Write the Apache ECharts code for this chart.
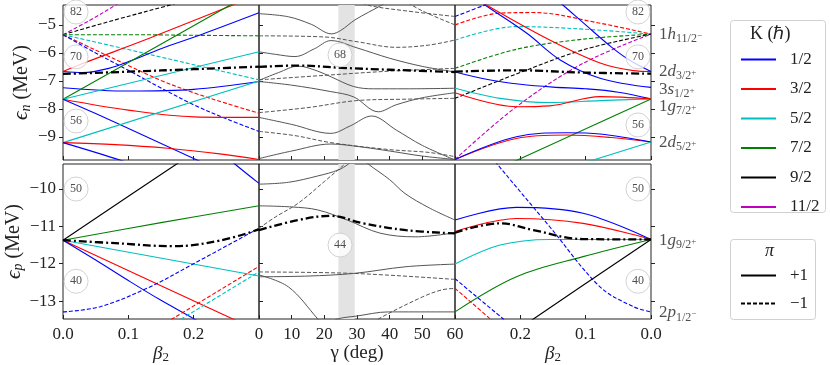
<!DOCTYPE html>
<html>
<head>
<meta charset="utf-8">
<script src="https://cdn.jsdelivr.net/npm/echarts@6/dist/echarts.min.js"></script>
<style>
  html, body { margin: 0; padding: 0; background: #fff; }
  #chart { width: 830px; height: 365px; }
</style>
</head>
<body>
<div id="chart"></div>
<script>
// K (2K value) legend entries and parity entries
const kValues = [1, 3, 5, 7, 9, 11];
const kNames = ['1/2', '3/2', '5/2', '7/2', '9/2', '11/2'];
const parityNames = ['+1', '\u22121'];

// tick values
const betaTicks = [0, 0.1, 0.2, 0.3];
const gammaTicks = [0, 10, 20, 30, 40, 50, 60];
const enTicks = [-9, -8, -7, -6, -5];
const epTicks = [-13, -12, -11, -10];

// shaded gamma window (deg)
const gammaBand = [24.3, 29.3];

// spherical levels: [n l, j, parity, energy]
const nLevels = [['1h', '11/2', '\u2212', -5.35], ['2d', '3/2', '+', -6.66], ['3s', '1/2', '+', -7.24], ['1g', '7/2', '+', -7.65], ['2d', '5/2', '+', -9.2]];
const pLevels = [['1g', '9/2', '+', -11.37], ['2p', '1/2', '\u2212', -13.29]];

// magic numbers: [x, energy, number]
const magicNL = [[0.02, -4.54, 82], [0.02, -6.14, 70], [0.02, -8.43, 56]];
const magicNM = [[24.8, -6.07, 68]];
const magicNR = [[0.02, -4.54, 82], [0.02, -6.14, 70], [0.02, -8.57, 56]];
const magicPL = [[0.02, -10.0, 50], [0.02, -12.47, 40]];
const magicPM = [[24.8, -11.5, 44]];
const magicPR = [[0.02, -10.0, 50], [0.02, -12.47, 40]];

// Fermi levels
const fermiNL = [[0, -6.75], [0.1, -6.67], [0.2, -6.58], [0.3, -6.49]];
const fermiNM = [[0, -6.5], [12, -6.45], [25, -6.53], [40, -6.6], [60, -6.68]];
const fermiNR = [[0.3, -6.67], [0.206, -6.62], [0.104, -6.7], [0, -6.74]];
const fermiPL = [[0, -11.37], [0.08, -11.45], [0.168, -11.53], [0.24, -11.38], [0.3, -11.08]];
const fermiPM = [[0, -11.1], [12, -10.83], [22, -10.72], [32, -10.92], [45, -11.1], [60, -11.19]];
const fermiPR = [[0.3, -11.17], [0.231, -10.92], [0.18, -11.1], [0.104, -11.34], [0, -11.35]];

// neutrons, prolate side (beta2, e)
const nProlate = [
  {k: 11, p: -1, pts: [[0, -5.35], [0.04, -4.85], [0.08, -4.3], [0.1, -4.0]]},
  {k: 9, p: -1, pts: [[0, -5.35], [0.08, -4.82], [0.164, -4.29], [0.2, -4.05]]},
  {k: 7, p: -1, pts: [[0, -5.35], [0.1, -5.35], [0.2, -5.37], [0.3, -5.39]]},
  {k: 5, p: -1, pts: [[0, -5.35], [0.1, -5.88], [0.2, -6.42], [0.3, -6.96]]},
  {k: 3, p: -1, pts: [[0, -5.35], [0.05, -5.9], [0.1, -6.45], [0.15, -6.98], [0.2, -7.42], [0.25, -7.8], [0.3, -8.15]]},
  {k: 1, p: -1, pts: [[0, -5.35], [0.05, -6.0], [0.1, -6.62], [0.15, -7.25], [0.2, -7.85], [0.25, -8.35], [0.3, -8.8]]},
  {k: 1, p: 1, pts: [[0, -6.66], [0.03, -6.7], [0.07, -6.55], [0.107, -6.25], [0.15, -5.85], [0.21, -5.36], [0.3, -4.57]]},
  {k: 3, p: 1, pts: [[0, -6.66], [0.031, -6.37], [0.133, -5.47], [0.26, -4.29], [0.3, -3.95]]},
  {k: 1, p: 1, pts: [[0, -7.24], [0.1, -7.36], [0.2, -7.3], [0.3, -7.02]]},
  {k: 7, p: 1, pts: [[0, -7.65], [0.256, -4.29], [0.3, -3.7]]},
  {k: 5, p: 1, pts: [[0, -7.65], [0.3, -5.96]]},
  {k: 3, p: 1, pts: [[0, -7.65], [0.1, -8.04], [0.2, -8.28], [0.3, -8.3]]},
  {k: 1, p: 1, pts: [[0, -7.65], [0.082, -8.5], [0.205, -9.82], [0.25, -10.3]]},
  {k: 5, p: 1, pts: [[0, -9.2], [0.3, -7.0]]},
  {k: 3, p: 1, pts: [[0, -9.2], [0.08, -9.27], [0.16, -9.4], [0.24, -9.6], [0.3, -9.8]]},
  {k: 1, p: 1, pts: [[0, -9.2], [0.087, -9.82], [0.12, -10.1]]}
];

// neutrons, gamma path at beta2 = 0.3 (gamma, e)
const nTriaxial = [
  {p: 1, pts: [[0, -4.6], [9, -4.71], [16, -4.98], [22.2, -5.32], [25, -5.2], [29.4, -4.82], [37.6, -4.29], [40, -4.1]]},
  {p: 1, pts: [[0, -5.96], [5, -6.05], [11, -6.13], [17, -5.85], [22, -5.56], [30, -5.82], [40, -6.19], [50, -6.48], [60, -6.68]]},
  {p: 1, pts: [[0, -6.98], [6, -6.7], [12, -6.47], [18, -6.65], [22.2, -6.86], [29, -7.2], [35, -7.28], [45, -7.28], [60, -7.26]]},
  {p: 1, pts: [[0, -7.02], [10, -7.15], [22, -7.38], [29, -7.57], [36.5, -8.1], [42, -7.85], [50, -7.6], [60, -7.42]]},
  {p: 1, pts: [[0, -8.3], [10, -8.55], [22, -8.87], [28, -8.6], [34.5, -8.25], [42, -8.75], [50, -9.3], [60, -9.82]]},
  {p: 1, pts: [[0, -9.77], [10, -9.5], [22, -9.25], [31, -9.35], [40, -9.5], [50, -9.68], [60, -9.8]]},
  {p: -1, pts: [[0, -5.39], [20, -5.43], [30, -5.6], [42, -5.8], [52, -5.72], [60, -5.54]]},
  {p: -1, pts: [[0, -6.96], [20, -6.8], [40, -6.65], [60, -6.55]]},
  {p: -1, pts: [[0, -8.13], [15, -7.95], [30, -7.7], [45, -7.65], [60, -7.62]]},
  {p: -1, pts: [[0, -8.8], [11, -8.95], [22, -9.2], [40, -9.45], [52, -9.55], [60, -9.7]]},
  {p: -1, pts: [[30, -4.1], [33, -4.29], [45, -4.5], [60, -4.7]]},
  {p: -1, pts: [[44, -4.1], [50, -4.5], [60, -5.0]]}
];

// neutrons, oblate side (beta2, e)
const nOblate = [
  {k: 1, p: -1, pts: [[0.3, -4.7], [0.254, -4.29], [0.22, -4.0]]},
  {k: 3, p: -1, pts: [[0.3, -5.0], [0.231, -4.58], [0.18, -4.56], [0.078, -4.94], [0, -5.33]]},
  {k: 5, p: -1, pts: [[0.3, -5.54], [0.206, -5.06], [0.104, -5.15], [0, -5.33]]},
  {k: 7, p: -1, pts: [[0.3, -6.55], [0.206, -5.87], [0.104, -5.51], [0, -5.33]]},
  {k: 9, p: -1, pts: [[0.3, -7.62], [0.206, -6.75], [0.104, -5.89], [0, -5.33]]},
  {k: 11, p: -1, pts: [[0.3, -9.8], [0.206, -7.92], [0.104, -6.37], [0, -5.33]]},
  {k: 1, p: 1, pts: [[0.27, -4.0], [0.254, -4.29], [0.19, -5.3], [0.139, -6.25], [0.078, -6.9], [0, -7.23]]},
  {k: 3, p: 1, pts: [[0.27, -4.0], [0.252, -4.29], [0.155, -5.54], [0.078, -6.36], [0.027, -6.63], [0, -6.66]]},
  {k: 1, p: 1, pts: [[0.15, -4.0], [0.135, -4.29], [0.1, -5.0], [0.06, -5.8], [0.03, -6.3], [0, -6.66]]},
  {k: 1, p: 1, pts: [[0.3, -6.68], [0.25, -6.95], [0.2, -7.12], [0.15, -7.22], [0.1, -7.28], [0.05, -7.4], [0, -7.64]]},
  {k: 5, p: 1, pts: [[0.3, -7.26], [0.231, -7.62], [0.155, -7.77], [0.078, -7.7], [0, -7.64]]},
  {k: 3, p: 1, pts: [[0.3, -7.42], [0.206, -7.92], [0.155, -7.89], [0.078, -7.56], [0, -7.64]]},
  {k: 7, p: 1, pts: [[0.24, -10.2], [0, -7.64]]},
  {k: 3, p: 1, pts: [[0.3, -9.8], [0.206, -9.05], [0.129, -8.93], [0.06, -9.02], [0, -9.18]]},
  {k: 1, p: 1, pts: [[0.3, -9.8], [0.206, -8.99], [0.129, -8.85], [0.078, -8.89], [0, -9.18]]},
  {k: 5, p: 1, pts: [[0.12, -10.05], [0, -9.18]]}
];

// protons, prolate side
const pProlate = [
  {k: 9, p: 1, pts: [[0, -11.37], [0.174, -9.33], [0.2, -9.03]]},
  {k: 7, p: 1, pts: [[0, -11.37], [0.15, -10.9], [0.3, -10.45]]},
  {k: 5, p: 1, pts: [[0, -11.37], [0.3, -12.33]]},
  {k: 3, p: 1, pts: [[0, -11.37], [0.26, -13.48], [0.3, -13.8]]},
  {k: 1, p: 1, pts: [[0, -11.37], [0.05, -11.9], [0.1, -12.45], [0.15, -12.98], [0.2, -13.47], [0.22, -13.7]]},
  {k: 1, p: 1, pts: [[0.255, -9.2], [0.263, -9.33], [0.3, -9.85]]},
  {k: 1, p: -1, pts: [[0, -13.29], [0.057, -13.15], [0.133, -12.62], [0.2, -12.0], [0.3, -11.05]]},
  {k: 3, p: -1, pts: [[0.15, -13.66], [0.167, -13.48], [0.3, -12.07]]},
  {k: 5, p: -1, pts: [[0.165, -13.65], [0.181, -13.48], [0.3, -12.22]]}
];

// protons, gamma path
const pTriaxial = [
  {p: 1, pts: [[0, -9.87], [9, -9.82], [18, -9.65], [24.3, -9.49], [27.4, -9.33], [30, -9.15]]},
  {p: 1, pts: [[31, -9.15], [33.4, -9.33], [40, -9.75], [44.7, -10.12], [52, -10.5], [60, -10.83]]},
  {p: 1, pts: [[0, -10.45], [10, -10.48], [18, -10.56], [27, -10.83], [37, -11.18], [48, -11.28], [60, -11.17]]},
  {p: 1, pts: [[0, -12.35], [15, -12.33], [29, -12.26], [45, -12.08], [60, -12.01]]},
  {p: 1, pts: [[0, -12.3], [9, -12.62], [18, -13.48], [20, -13.7]]},
  {p: 1, pts: [[22, -13.6], [24, -13.48], [30, -13.4], [39.6, -13.29], [60, -13.29]]},
  {p: -1, pts: [[0, -11.05], [5, -10.75], [12, -10.38], [20, -9.8], [26.3, -9.33], [28, -9.2]]},
  {p: -1, pts: [[0, -12.22], [29, -12.26], [60, -12.42]]},
  {p: -1, pts: [[35, -13.6], [36.5, -13.48], [50, -12.89], [56, -12.7], [60, -12.66]]}
];

// protons, oblate side
const pOblate = [
  {k: 1, p: 1, pts: [[0.3, -10.83], [0.206, -10.49], [0.104, -10.65], [0, -11.35]]},
  {k: 3, p: 1, pts: [[0.3, -11.14], [0.206, -10.79], [0.104, -10.92], [0, -11.35]]},
  {k: 5, p: 1, pts: [[0.3, -12.01], [0.231, -11.5], [0.155, -11.35], [0, -11.35]]},
  {k: 7, p: 1, pts: [[0.3, -13.29], [0.206, -12.35], [0.104, -11.81], [0, -11.35]]},
  {k: 9, p: 1, pts: [[0.2, -13.75], [0.18, -13.48], [0, -11.35]]},
  {k: 1, p: -1, pts: [[0.25, -9.0], [0.234, -9.36], [0.155, -11.01], [0.078, -12.62], [0.027, -13.15], [0, -13.29]]},
  {k: 1, p: -1, pts: [[0.3, -12.4], [0.226, -13.48], [0.2, -13.85]]},
  {k: 3, p: -1, pts: [[0.3, -12.66], [0.246, -13.48], [0.22, -13.9]]}
];

// ---- styling ----
const kColors = {1: '#0000ff', 3: '#ff0000', 5: '#00bfbf', 7: '#008000', 9: '#000000', 11: '#bf00bf'};
const SERIF = 'Liberation Serif';
const dash = [4, 2];
const minus = v => (v < 0 ? '\u2212' : '') + Math.abs(v);
// vertical nudge (px) of the spherical-level labels so they don't collide
const levelNudgeN = [0, 0, 2, 7, 0];
const levelNudgeP = [0, 1];

const chart = echarts.init(document.getElementById('chart'), null, {renderer: 'canvas'});

const gridBox = [
  {left: 63, top: 5, width: 196, height: 155},
  {left: 259, top: 5, width: 196, height: 155},
  {left: 455, top: 5, width: 196, height: 155},
  {left: 63, top: 164, width: 196, height: 155},
  {left: 259, top: 164, width: 196, height: 155},
  {left: 455, top: 164, width: 196, height: 155}
];
const grids = gridBox.map(g => Object.assign({show: true, borderColor: '#222', borderWidth: 1, containLabel: false}, g));

const xAxes = gridBox.map((g, i) => {
  const col = i % 3;
  const bottom = i >= 3;
  const ax = {
    type: 'value', gridIndex: i,
    min: 0, max: col === 1 ? 60 : 0.3,
    interval: col === 1 ? 10 : 0.1,
    inverse: col === 2,
    axisLine: {show: false},
    axisTick: {show: true, inside: true, length: 4, lineStyle: {color: '#222'}},
    splitLine: {show: false},
    axisLabel: {
      show: bottom, margin: 7, color: '#222', fontSize: 17, fontFamily: SERIF,
      formatter: v => col === 1 ? String(v) : (v > 0.29 ? '' : v.toFixed(1))
    }
  };
  if (bottom) {
    ax.name = col === 1 ? '{g|\u03b3} (deg)' : '{b|\u03b2}{s|2}';
    ax.nameLocation = 'middle';
    ax.nameGap = 24;
    ax.nameTextStyle = {
      fontSize: 19, fontFamily: SERIF, color: '#222',
      rich: {
        g: {fontSize: 19, fontFamily: SERIF, color: '#222'},
        b: {fontSize: 19, fontFamily: SERIF, fontStyle: 'italic', color: '#222'},
        s: {fontSize: 13, fontFamily: SERIF, color: '#222', padding: [8, 0, 0, 0]}
      }
    };
  }
  return ax;
});

const yAxes = gridBox.map((g, i) => {
  const col = i % 3;
  const top = i < 3;
  const ticks = top ? enTicks : epTicks;
  const ax = {
    type: 'value', gridIndex: i,
    min: top ? -9.82 : -13.48, max: top ? -4.29 : -9.33,
    axisLine: {show: false},
    splitLine: {show: false},
    axisTick: {show: true, inside: col !== 0, length: 4, customValues: ticks, lineStyle: {color: '#222'}},
    axisLabel: {show: col === 0, customValues: ticks, margin: 7, color: '#222', fontSize: 17, fontFamily: SERIF, formatter: minus}
  };
  if (col === 0) {
    ax.name = top ? '{e|\u03f5}{s|n} (MeV)' : '{e|\u03f5}{s|p} (MeV)';
    ax.nameLocation = 'middle';
    ax.nameGap = 30;
    ax.nameRotate = 90;
    ax.nameTextStyle = {
      fontSize: 20, fontFamily: SERIF, color: '#222',
      rich: {
        e: {fontSize: 21, fontFamily: SERIF, fontStyle: 'italic', color: '#222'},
        s: {fontSize: 14, fontFamily: SERIF, fontStyle: 'italic', color: '#222', padding: [9, 0, 0, 0]}
      }
    };
  }
  return ax;
});

const series = [];

function addCurves(list, gi, gray) {
  list.forEach(c => {
    series.push({
      type: 'line', xAxisIndex: gi, yAxisIndex: gi, data: c.pts,
      symbol: 'none', smooth: 0.35, silent: true, z: 3,
      lineStyle: {color: gray ? '#555' : kColors[c.k], width: gray ? 1 : 1.1, type: c.p > 0 ? 'solid' : dash}
    });
  });
}
function addFermi(pts, gi) {
  series.push({
    type: 'line', xAxisIndex: gi, yAxisIndex: gi, data: pts,
    symbol: 'none', smooth: 0.4, silent: true, z: 4,
    lineStyle: {color: '#000', width: 2.3, type: [8, 3, 2, 3]}
  });
}
function addMagic(list, gi) {
  series.push({
    type: 'scatter', xAxisIndex: gi, yAxisIndex: gi, data: list, z: 6, silent: true,
    symbol: 'circle', symbolSize: 24,
    itemStyle: {color: '#fff', borderColor: '#c8c8c8', borderWidth: 1},
    label: {show: true, position: 'inside', formatter: p => p.value[2], fontSize: 12, fontFamily: SERIF, color: '#222'}
  });
}
function addLevels(list, nudge, gi) {
  series.push({
    type: 'scatter', xAxisIndex: gi, yAxisIndex: gi, silent: true, z: 6,
    data: list.map((l, j) => ({value: [0, l[3], l[0], l[1], l[2]], label: {offset: [0, nudge[j]]}})),
    symbolSize: 0,
    label: {
      show: true, position: 'right', distance: 8, color: '#222',
      formatter: p => `{n|${p.value[2][0]}}{i|${p.value[2][1]}}{s|${p.value[3]}}{u|${p.value[4]}}`,
      rich: {
        n: {fontSize: 17, fontFamily: SERIF, color: '#222'},
        i: {fontSize: 17, fontFamily: SERIF, fontStyle: 'italic', color: '#222'},
        s: {fontSize: 12, fontFamily: SERIF, color: '#222', padding: [9, 0, 0, 0]},
        u: {fontSize: 9, fontFamily: SERIF, color: '#222', padding: [2, 0, 0, 0]}
      }
    }
  });
}

// grey gamma band
[1, 4].forEach(gi => {
  series.push({
    type: 'line', xAxisIndex: gi, yAxisIndex: gi, data: [], z: 1, silent: true,
    markArea: {silent: true, itemStyle: {color: '#e3e3e3'}, data: [[{xAxis: gammaBand[0]}, {xAxis: gammaBand[1]}]]}
  });
});

addCurves(nProlate, 0, false);
addCurves(nTriaxial, 1, true);
addCurves(nOblate, 2, false);
addCurves(pProlate, 3, false);
addCurves(pTriaxial, 4, true);
addCurves(pOblate, 5, false);
addFermi(fermiNL, 0); addFermi(fermiNM, 1); addFermi(fermiNR, 2);
addFermi(fermiPL, 3); addFermi(fermiPM, 4); addFermi(fermiPR, 5);
addMagic(magicNL, 0); addMagic(magicNM, 1); addMagic(magicNR, 2);
addMagic(magicPL, 3); addMagic(magicPM, 4); addMagic(magicPR, 5);
addLevels(nLevels, levelNudgeN, 2); addLevels(pLevels, levelNudgeP, 5);

// legend-only series
kValues.forEach((k, i) => series.push({
  type: 'line', name: kNames[i], data: [], symbol: 'none', xAxisIndex: 0, yAxisIndex: 0,
  lineStyle: {color: kColors[k], width: 1.5}, itemStyle: {color: kColors[k]}
}));
series.push({type: 'line', name: parityNames[0], data: [], symbol: 'none', xAxisIndex: 0, yAxisIndex: 0,
  lineStyle: {color: '#000', width: 1.5}, itemStyle: {color: '#000'}});
series.push({type: 'line', name: parityNames[1], data: [], symbol: 'none', xAxisIndex: 0, yAxisIndex: 0,
  lineStyle: {color: '#000', width: 1.5, type: dash}, itemStyle: {color: '#000'}});

const legendText = {fontSize: 17, fontFamily: SERIF, color: '#222', padding: [0, 0, 0, 9]};
const legendBase = {orient: 'vertical', left: 735, itemWidth: 35, itemHeight: 14, selectedMode: false,
  textStyle: legendText, itemStyle: {opacity: 0, borderWidth: 0}};

chart.setOption({
  animation: false,
  backgroundColor: '#fff',
  grid: grids,
  xAxis: xAxes,
  yAxis: yAxes,
  series: series,
  legend: [
    Object.assign({data: kNames, top: 46, itemGap: 12.5}, legendBase),
    Object.assign({data: parityNames, top: 262, itemGap: 11}, legendBase)
  ],
  graphic: [
    {type: 'rect', left: 728, top: 18, shape: {width: 95, height: 192, r: 3}, style: {fill: 'none', stroke: '#d0d0d0', lineWidth: 1}, z: -1},
    {type: 'text', left: 750, top: 25, style: {text: 'K (\u210f)', font: '18px "Liberation Serif"', fill: '#222'}},
    {type: 'rect', left: 728, top: 237, shape: {width: 85, height: 80, r: 3}, style: {fill: 'none', stroke: '#d0d0d0', lineWidth: 1}, z: -1},
    {type: 'text', left: 765, top: 242, style: {text: '\u03c0', font: 'italic 18px "Liberation Serif"', fill: '#222'}}
  ]
});
</script>
</body>
</html>
